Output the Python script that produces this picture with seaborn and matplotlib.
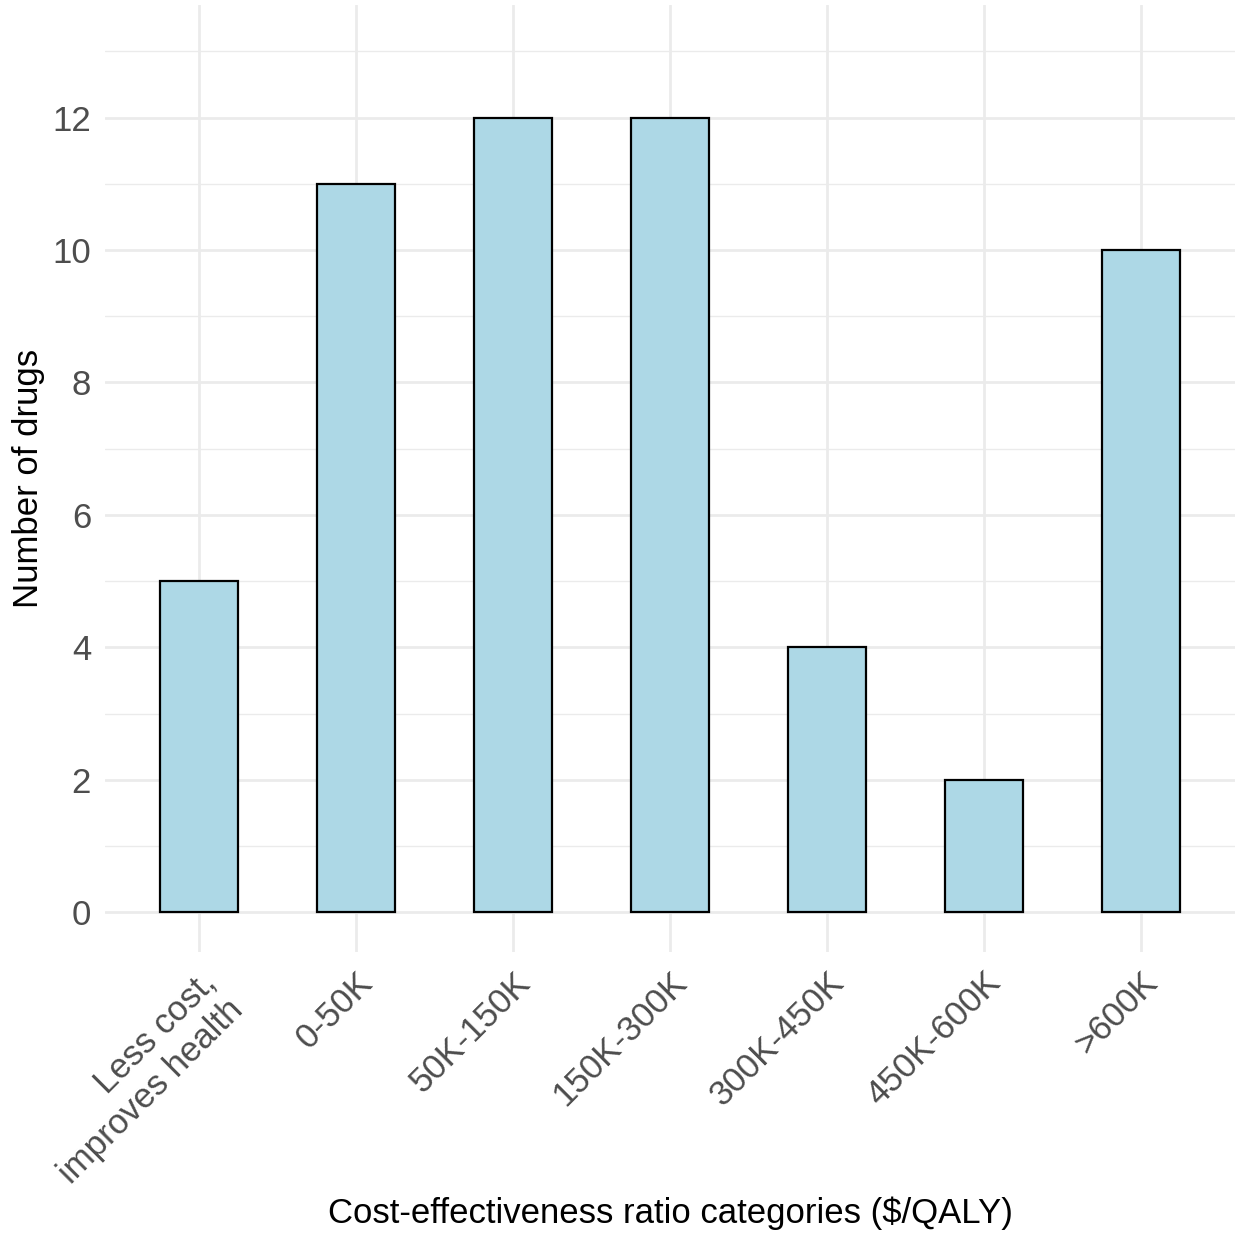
import matplotlib
matplotlib.use("Agg")
import matplotlib.pyplot as plt
import seaborn as sns
import pandas as pd
from matplotlib.ticker import MultipleLocator

# Chart data
categories = ["Less cost,\nimproves health", "0-50K", "50K-150K", "150K-300K",
              "300K-450K", "450K-600K", ">600K"]
drug_counts = [5, 11, 12, 12, 4, 2, 10]

df = pd.DataFrame({"category": categories, "count": drug_counts})

sns.set_theme(style="white")
plt.rcParams['font.family'] = ['Liberation Sans', 'DejaVu Sans']

fig = plt.figure(figsize=(12.38, 12.34), dpi=100)
ax = fig.add_axes([0.0848, 0.2285, 0.9128, 0.7675])

sns.barplot(data=df, x="category", y="count", color="#ADD8E6",
            edgecolor="black", linewidth=1.6, width=0.5, saturation=1, ax=ax, zorder=3)

ax.set_xlim(-0.6, 6.6)
ax.set_ylim(-0.6, 13.7)
ax.yaxis.set_major_locator(MultipleLocator(2))
ax.yaxis.set_minor_locator(MultipleLocator(1))

ax.grid(which="major", axis="both", color="#EBEBEB", linewidth=2.0, zorder=0)
ax.grid(which="minor", axis="y", color="#EBEBEB", linewidth=1.0, zorder=0)
ax.set_axisbelow(True)
for s in ax.spines.values():
    s.set_visible(False)

ax.tick_params(axis="both", which="both", length=0, labelsize=25, labelcolor="#4D4D4D")
ax.tick_params(axis="y", pad=10)
ax.tick_params(axis="x", pad=10)
plt.setp(ax.get_xticklabels(), rotation=45, ha="right", va="top",
         rotation_mode="anchor", multialignment="right")

ax.set_xlabel("Cost-effectiveness ratio categories ($/QALY)", fontsize=25, color="black", labelpad=5)
ax.set_ylabel("Number of drugs", fontsize=25, color="black", labelpad=5)

fig.savefig("out.png", dpi=100)
plt.close(fig)
